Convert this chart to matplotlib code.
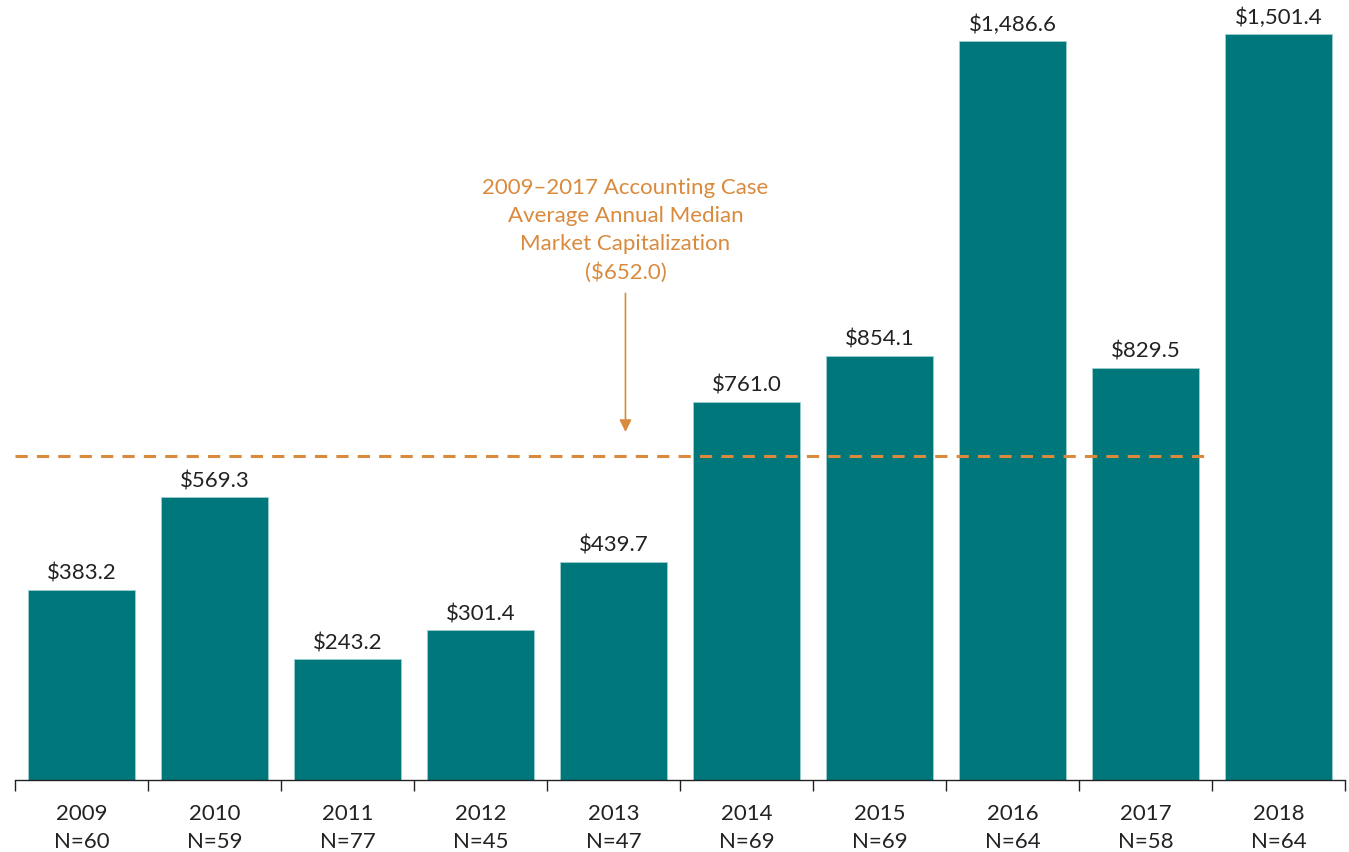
import matplotlib
matplotlib.use("Agg")
import matplotlib.pyplot as plt
import numpy as np

years = ["2009", "2010", "2011", "2012", "2013", "2014", "2015", "2016", "2017", "2018"]
counts = [60, 59, 77, 45, 47, 69, 69, 64, 58, 64]
values = [383.2, 569.3, 243.2, 301.4, 439.7, 761.0, 854.1, 1486.6, 829.5, 1501.4]
average = 652.0

teal = "#00777B"
orange = "#D98A3D"

plt.rcParams["font.family"] = ["Lato", "DejaVu Sans"]

fig = plt.figure(figsize=(13.49, 8.52), dpi=100)
ax = fig.add_axes([15 / 1349, 1 - 780 / 852, 1330 / 1349, 780 / 852])

x = np.arange(len(years))
bars = ax.bar(x, values, width=0.8, color=teal, edgecolor="#9CCFD0", linewidth=0.6)

for bar, v in zip(bars, values):
    ax.text(bar.get_x() + bar.get_width() / 2, v + 12, f"${v:,.1f}",
            ha="center", va="bottom", fontsize=16, color="#222222")

# average line over 2009-2017
ax.plot([-0.5, 8.5], [average, average], color=orange, linestyle=(0, (4, 3)), linewidth=2.2)

ax.annotate("", xy=(4.09, 695), xytext=(4.09, 985),
            arrowprops=dict(arrowstyle="-|>", color=orange, lw=1.2, mutation_scale=18))
ax.text(4.09, 1000, "2009\u20132017 Accounting Case\nAverage Annual Median\nMarket Capitalization\n($652.0)",
        ha="center", va="bottom", fontsize=16, color=orange, linespacing=1.5)

ax.set_xlim(-0.5, 9.5)
ax.set_ylim(0, 1570)
ax.set_xticks(x)
ax.set_xticklabels([f"{y}\nN={n}" for y, n in zip(years, counts)], fontsize=16, color="#222222",
                   linespacing=1.5)
ax.set_xticks(np.arange(-0.5, 10, 1), minor=True)
ax.tick_params(axis="x", which="major", length=0, pad=17)
ax.tick_params(axis="x", which="minor", length=8, width=1, color="#222222", direction="out")
ax.set_yticks([])
for s in ["top", "right", "left"]:
    ax.spines[s].set_visible(False)
ax.spines["bottom"].set_color("#222222")
ax.spines["bottom"].set_linewidth(1)

fig.savefig("out.png", dpi=100)
